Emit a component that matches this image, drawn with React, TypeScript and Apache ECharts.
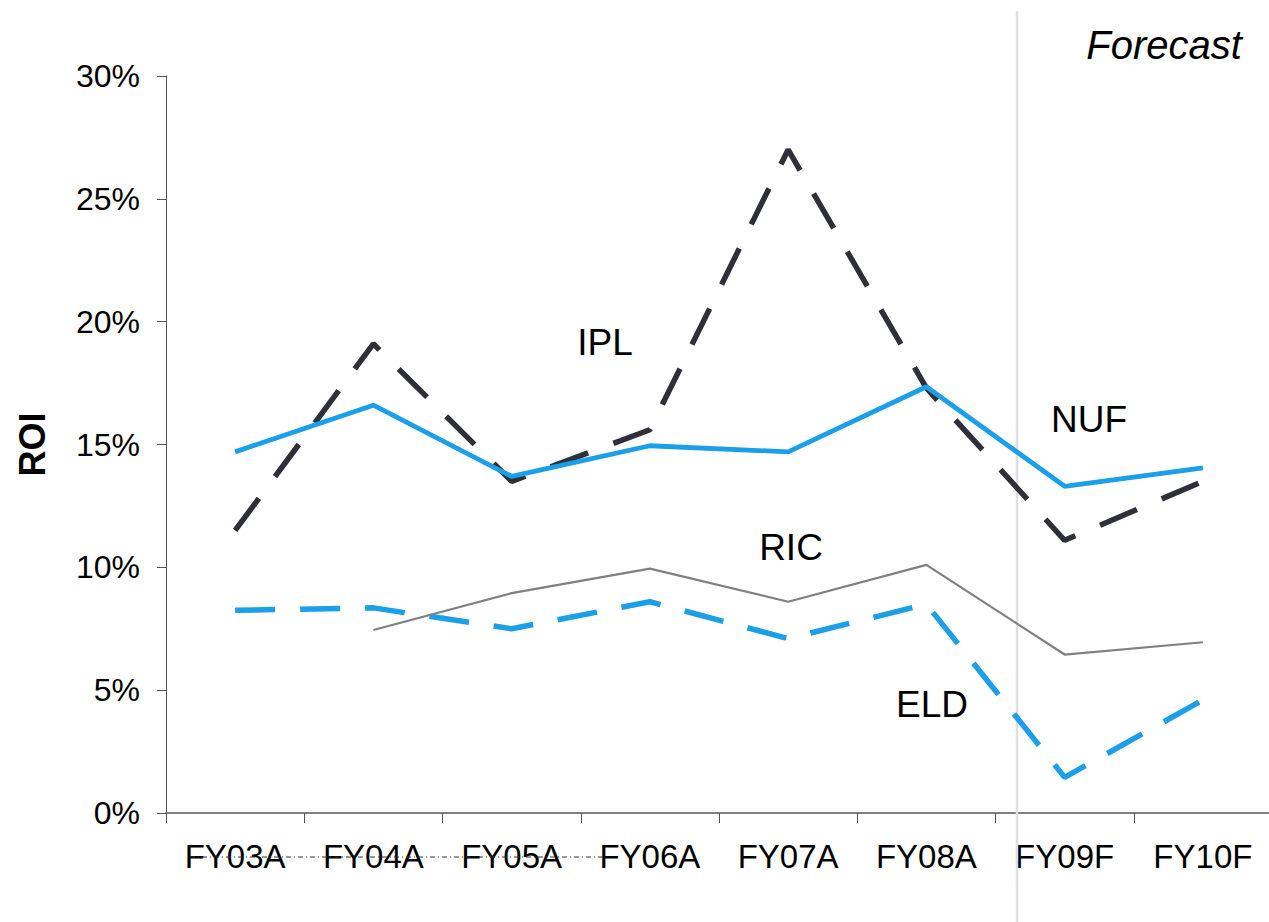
import React, { useEffect, useRef } from "react";
import * as echarts from "echarts";

const categories = ["FY03A", "FY04A", "FY05A", "FY06A", "FY07A", "FY08A", "FY09F", "FY10F"];
const iplValues = [11.5, 19.1, 13.5, 15.6, 27.0, 17.3, 11.1, 13.5];
const nufValues = [14.7, 16.6, 13.7, 14.95, 14.7, 17.35, 13.3, 14.05];
const ricValues: (number | null)[] = [null, 7.45, 8.95, 9.95, 8.6, 10.1, 6.45, 6.95];
const eldValues = [8.25, 8.35, 7.5, 8.6, 7.1, 8.5, 1.45, 4.6];
const yTicks = { min: 0, max: 30, interval: 5 };

const FONT = "'Liberation Sans', Arial, sans-serif";
const BLUE = "#1a9fe8";
const DARK = "#2f2f3a";

function txt(text: string, x: number, y: number, size: number, extra: any = {}) {
  return {
    type: "text",
    x,
    y,
    z: 10,
    style: {
      text,
      fill: "#000",
      font: `${extra.fontStyle || "normal"} normal ${size}px ${FONT}`,
      align: "center",
      verticalAlign: "middle",
      textAlign: "center",
      textVerticalAlign: "middle",
    },
  };
}

export default function App() {
  const ref = useRef<HTMLDivElement>(null);
  useEffect(() => {
    if (!ref.current) return;
    const chart = echarts.init(ref.current, null, { renderer: "svg" });
    chart.setOption({
      animation: false,
      backgroundColor: "#fff",
      grid: {
        left: 166,
        top: 76,
        width: 1106,
        bottom: 109,
        containLabel: false,
        outerBoundsMode: "none",
      },
      xAxis: {
        type: "category",
        data: categories,
        boundaryGap: true,
        axisLine: { show: true, lineStyle: { color: "#808080", width: 2 } },
        axisTick: { show: true, length: 10, lineStyle: { color: "#555", width: 1 } },
        axisLabel: { fontSize: 33, fontFamily: FONT, color: "#000", margin: 27 },
        splitLine: { show: false },
      },
      yAxis: {
        type: "value",
        min: yTicks.min,
        max: yTicks.max,
        interval: yTicks.interval,
        name: "ROI",
        nameLocation: "middle",
        nameGap: 116,
        nameRotate: 90,
        nameTextStyle: { fontSize: 36, fontWeight: "bold", fontFamily: FONT, color: "#000" },
        axisLine: { show: true, lineStyle: { color: "#555", width: 1 } },
        axisTick: { show: true, length: 9, lineStyle: { color: "#555", width: 1 } },
        axisLabel: { fontSize: 32, fontFamily: FONT, color: "#000", margin: 26, formatter: "{value}%" },
        splitLine: { show: false },
      },
      series: [
        {
          name: "ELD",
          type: "line",
          data: eldValues,
          showSymbol: false,
          symbol: "none",
          lineStyle: { color: BLUE, width: 5.5, type: [40, 25], cap: "butt" },
          z: 3,
        },
        {
          name: "RIC",
          type: "line",
          data: ricValues,
          showSymbol: false,
          symbol: "none",
          lineStyle: { color: "#808080", width: 2.2 },
          z: 4,
        },
        {
          name: "IPL",
          type: "line",
          data: iplValues,
          showSymbol: false,
          symbol: "none",
          lineStyle: { color: DARK, width: 5.5, type: [40, 27], cap: "butt" },
          z: 5,
        },
        {
          name: "NUF",
          type: "line",
          data: nufValues,
          showSymbol: false,
          symbol: "none",
          lineStyle: { color: BLUE, width: 4.8 },
          z: 6,
        },
      ],
      graphic: [
        {
          type: "line",
          z: 1,
          shape: { x1: 1017, y1: 11, x2: 1017, y2: 922 },
          style: { stroke: "#dedee6", lineWidth: 2.5 },
        },
        {
          type: "line",
          z: 1,
          shape: { x1: 190, y1: 857, x2: 603, y2: 857 },
          style: { stroke: "#333", lineWidth: 1, lineDash: [5, 3, 1, 3] },
        },
        txt("IPL", 605, 342, 37),
        txt("NUF", 1089, 419, 37),
        txt("RIC", 791, 547, 37),
        txt("ELD", 932, 704, 37),
        txt("Forecast", 1164, 45, 40, { fontStyle: "italic" }),
      ],
    });
    return () => chart.dispose();
  }, []);
  return (
    <div
      ref={ref}
      style={{ position: "absolute", left: 0, top: 0, width: 1269, height: 922, background: "#fff" }}
    />
  );
}
